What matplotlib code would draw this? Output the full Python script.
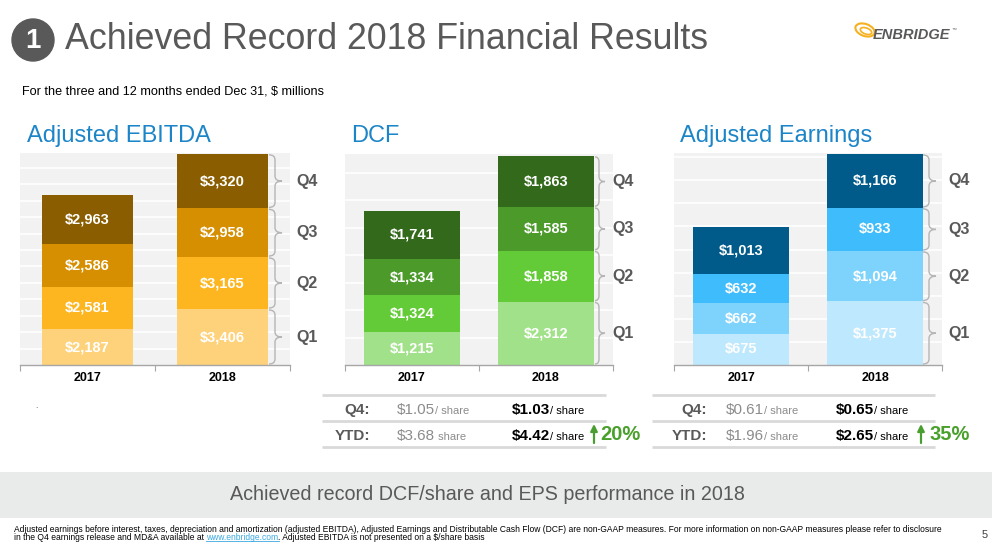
import numpy as np
import matplotlib
matplotlib.use('Agg')
import matplotlib.pyplot as plt
from matplotlib.path import Path
from matplotlib.patches import PathPatch, Circle, Ellipse, Rectangle
import matplotlib.transforms as mtrans
from matplotlib import font_manager as fm

plt.rcParams['text.parse_math'] = False


def has_font(name):
    try:
        fm.findfont(fm.FontProperties(family=name), fallback_to_default=False)
        return True
    except Exception:
        return False


SANS = 'Liberation Sans' if has_font('Liberation Sans') else 'DejaVu Sans'
NARROW = 'Liberation Sans Narrow' if has_font('Liberation Sans Narrow') else SANS
plt.rcParams['font.family'] = [SANS, 'DejaVu Sans']

# ---------------- data ----------------
years = ['2017', '2018']
quarters = ['Q1', 'Q2', 'Q3', 'Q4']
ebitda_2017 = [2187, 2581, 2586, 2963]
ebitda_2018 = [3406, 3165, 2958, 3320]
dcf_2017 = [1215, 1324, 1334, 1741]
dcf_2018 = [2312, 1858, 1585, 1863]
earn_2017 = [675, 662, 632, 1013]
earn_2018 = [1375, 1094, 933, 1166]

row_labels = ['Q4:', 'YTD:']
dcf_share_2017 = ['$1.05', '$3.68']
dcf_share_2017_suffix = ['/ share', ' share']
dcf_share_2018 = ['$1.03', '$4.42']
dcf_growth = '20%'
eps_2017 = ['$0.61', '$1.96']
eps_2017_suffix = ['/ share', '/ share']
eps_2018 = ['$0.65', '$2.65']
eps_growth = '35%'

title = 'Achieved Record 2018 Financial Results'
subtitle = 'For the three and 12 months ended Dec 31, $ millions'
section_titles = ['Adjusted EBITDA', 'DCF', 'Adjusted Earnings']
banner = 'Achieved record DCF/share and EPS performance in 2018'
foot1 = ('Adjusted earnings before interest, taxes, depreciation and amortization (adjusted EBITDA), '
         'Adjusted Earnings and Distributable Cash Flow (DCF) are non-GAAP measures. For more information '
         'on non-GAAP measures please refer to disclosure')
foot2a = 'in the Q4 earnings release and MD&A available at '
foot2link = 'www.enbridge.com'
foot2b = '. Adjusted EBITDA is not presented on a $/share basis'

ebitda_colors = ['#fed27b', '#fdb620', '#d68f00', '#8a5e00']
dcf_colors = ['#a1e189', '#64cb38', '#4b9a2a', '#33691a']
earn_colors = ['#bee8fd', '#7dd3fc', '#3ebcfb', '#005b8a']

# ---------------- figure ----------------
W, H = 992, 547
fig = plt.figure(figsize=(W / 100, H / 100), dpi=100)
fig.patch.set_facecolor('white')

ov = fig.add_axes([0, 0, 1, 1], zorder=0)
ov.set_xlim(0, W)
ov.set_ylim(H, 0)
ov.axis('off')


def rect(x0, y0, x1, y1):
    return [x0 / W, 1 - y1 / H, (x1 - x0) / W, (y1 - y0) / H]


def brace(ax, bt, xa, xb, xc, y0, y1, r):
    ym = (y0 + y1) / 2
    verts = [(xa, y1), (xb, y1), (xb, y1 - r), (xb, ym + r), (xb, ym), (xc, ym),
             (xb, ym), (xb, ym - r), (xb, y0 + r), (xb, y0), (xa, y0)]
    codes = [Path.MOVETO, Path.CURVE3, Path.CURVE3, Path.LINETO, Path.CURVE3, Path.CURVE3,
             Path.CURVE3, Path.CURVE3, Path.LINETO, Path.CURVE3, Path.CURVE3]
    ax.add_patch(PathPatch(Path(verts, codes), transform=bt, fill=False,
                           edgecolor='#b5b5b5', lw=1.0, clip_on=False, zorder=4))


def stacked_chart(box, v17, v18, colors, ymax, step, bar_w, brace_px, qlab_px):
    x0, y0, x1, y1 = box
    wpx, hpx = x1 - x0, y1 - y0
    ax = fig.add_axes(rect(*box), zorder=2)
    ax.set_facecolor('#f2f2f2')
    ax.set_xlim(-0.5, 1.5)
    ax.set_ylim(0, ymax)
    ax.set_yticks(np.arange(step, ymax, step))
    ax.yaxis.grid(True, color='white', linewidth=1.2)
    ax.set_axisbelow(True)
    ax.tick_params(axis='y', length=0, labelleft=False)
    for s in ['top', 'right', 'left']:
        ax.spines[s].set_visible(False)
    ax.spines['bottom'].set_color('#a6a6a6')
    ax.spines['bottom'].set_linewidth(1.0)
    ax.set_xticks([-0.5, 0.5, 1.5])
    ax.set_xticklabels([])
    ax.tick_params(axis='x', which='major', length=4, color='#a6a6a6', direction='out')
    ax.set_xticks([0, 1], minor=True)
    ax.set_xticklabels(years, minor=True, fontsize=9, fontweight='bold', color='black')
    ax.tick_params(axis='x', which='minor', length=0, pad=5)

    data = np.array([v17, v18], dtype=float)
    xs = np.arange(len(years))
    bottoms = np.zeros(len(years))
    bt = mtrans.blended_transform_factory(ax.transAxes, ax.transData)
    r = 5 * ymax / hpx
    g = 1.0 * ymax / hpx
    xa, xb, xc = [(p - x0) / wpx for p in brace_px]
    for qi in range(len(quarters)):
        vals = data[:, qi]
        ax.bar(xs, vals, width=bar_w, bottom=bottoms, color=colors[qi], linewidth=0, zorder=2)
        for xi in xs:
            ax.text(xi, bottoms[xi] + vals[xi] / 2, f'${int(vals[xi]):,}', ha='center',
                    va='center', color='white', fontsize=10.5, fontweight='bold', zorder=3)
        b18, t18 = bottoms[1], bottoms[1] + vals[1]
        brace(ax, bt, xa, xb, xc, b18 + g, t18 - g, r)
        ax.text((qlab_px - x0) / wpx, (b18 + t18) / 2, quarters[qi], transform=bt,
                ha='left', va='center', fontsize=11.5, fontweight='bold', color='#595959',
                clip_on=False)
        bottoms += vals
    return ax


stacked_chart((20, 153, 290, 365), ebitda_2017, ebitda_2018, ebitda_colors,
              12900, 1000, 0.667, (269, 275, 282), 296)
stacked_chart((345, 154, 613, 365), dcf_2017, dcf_2018, dcf_colors,
              7690, 1000, 0.709, (595, 599, 605), 612)
stacked_chart((674, 153, 942, 365), earn_2017, earn_2018, earn_colors,
              4590, 500, 0.709, (923, 929, 936), 948)

# ---------------- header ----------------
ov.add_patch(Circle((33, 40), 21, color='#595959'))
ov.text(33, 41, '1', ha='center', va='center', color='white', fontsize=20, fontweight='bold')
t_title = ov.text(65, 49, title, ha='left', va='baseline', fontsize=24, color='#595959')

# logo
ov.add_patch(Ellipse((865, 30), 20, 12, angle=20, fill=False, edgecolor='#f5b120', lw=1.5))
ov.add_patch(Ellipse((866, 31), 12, 6, angle=20, fill=False, edgecolor='#f5b120', lw=1.2))
t_logo = ov.text(873, 39, 'ENBRIDGE', ha='left', va='baseline', fontsize=10,
                 fontweight='bold', fontstyle='italic', color='#58595b')
ov.text(952, 30, '™', ha='left', va='baseline', fontsize=3.5, color='#58595b')

t_sub = ov.text(22, 95, subtitle, ha='left', va='baseline', fontsize=9, color='black')

sec = []
for x, s in zip((27, 351, 680), section_titles):
    sec.append(ov.text(x, 142, s, ha='left', va='baseline', fontsize=16.5, color='#1c85c8'))

ov.text(36, 408, '.', ha='center', va='baseline', fontsize=6, color='#404040')


# ---------------- per-share tables ----------------
def share_table(xl, xr, col_q, col_a, col_b, arrow_x, pct_x, a_vals, a_suf, b_vals, growth):
    for y in (395, 421, 447):
        ov.plot([xl, xr], [y, y], color='#d9d9d9', lw=2, solid_capstyle='butt')
    for i, yb in enumerate((414, 440)):
        ov.text(col_q, yb, row_labels[i], ha='right', va='baseline', fontsize=11,
                fontweight='bold', color='#595959')
        ta = ov.text(col_a, yb, a_vals[i], ha='left', va='baseline', fontsize=11, color='#8c8c8c')
        ov.annotate(a_suf[i], xy=(1, yb), xycoords=(ta, 'data'), ha='left', va='baseline',
                    fontsize=8, color='#8c8c8c')
        tb = ov.text(col_b, yb, b_vals[i], ha='left', va='baseline', fontsize=11,
                     fontweight='bold', color='black')
        ov.annotate('/ share', xy=(1, yb), xycoords=(tb, 'data'), ha='left', va='baseline',
                    fontsize=8, color='black')
    ov.annotate('', xy=(arrow_x, 424), xytext=(arrow_x, 443),
                arrowprops=dict(arrowstyle='-|>', color='#4a9e2f', lw=1.6, mutation_scale=10,
                                shrinkA=0, shrinkB=0))
    ov.text(pct_x, 440, growth, ha='left', va='baseline', fontsize=14.5, fontweight='bold',
            color='#4aa02c')


share_table(322, 606, 370, 397, 512, 594, 600, dcf_share_2017, dcf_share_2017_suffix,
            dcf_share_2018, dcf_growth)
share_table(652, 935, 707, 726, 836, 921, 930, eps_2017, eps_2017_suffix, eps_2018, eps_growth)

# ---------------- banner & footer ----------------
ov.add_patch(Rectangle((0, 472), W, 46, color='#e9eaea', lw=0))
t_ban = ov.text(487, 495, banner, ha='center', va='center', fontsize=14, color='#595959')

t_f1 = ov.text(14, 532, foot1, ha='left', va='baseline', fontsize=6.5, color='black',
               family=[NARROW, 'DejaVu Sans'])
t_f2 = ov.text(14, 540, foot2a, ha='left', va='baseline', fontsize=6.5, color='black',
               family=[NARROW, 'DejaVu Sans'])
t_link = ov.annotate(foot2link, xy=(1, 540), xycoords=(t_f2, 'data'), ha='left',
                     va='baseline', fontsize=6.5, color='#3aa9e0', family=[NARROW, 'DejaVu Sans'])
t_f3 = ov.annotate(foot2b, xy=(1, 540), xycoords=(t_link, 'data'), ha='left', va='baseline',
                   fontsize=6.5, color='black', family=[NARROW, 'DejaVu Sans'])
ov.text(985, 538, '5', ha='center', va='baseline', fontsize=8, color='#404040')

# ---------------- fit text widths ----------------
fig.canvas.draw()
renderer = fig.canvas.get_renderer()


def fit(t, target):
    bb = t.get_window_extent(renderer)
    t.set_fontsize(t.get_fontsize() * target / bb.width)


fit(t_title, 645)
fit(t_logo, 77)
fit(t_sub, 303)
fit(t_ban, 518)
fit(sec[2], 192)
for t in sec[:2]:
    t.set_fontsize(sec[2].get_fontsize())
fit(t_f1, 926)
fs = t_f1.get_fontsize()
for t in (t_f2, t_link, t_f3):
    t.set_fontsize(fs)

fig.canvas.draw()
bb = t_link.get_window_extent(renderer)
inv = ov.transData.inverted()
(lx0, _), (lx1, _) = inv.transform([(bb.x0, bb.y0), (bb.x1, bb.y0)])
ov.plot([lx0, lx1], [541.2, 541.2], color='#3aa9e0', lw=0.6)

fig.savefig('out.png', dpi=100, facecolor='white')
